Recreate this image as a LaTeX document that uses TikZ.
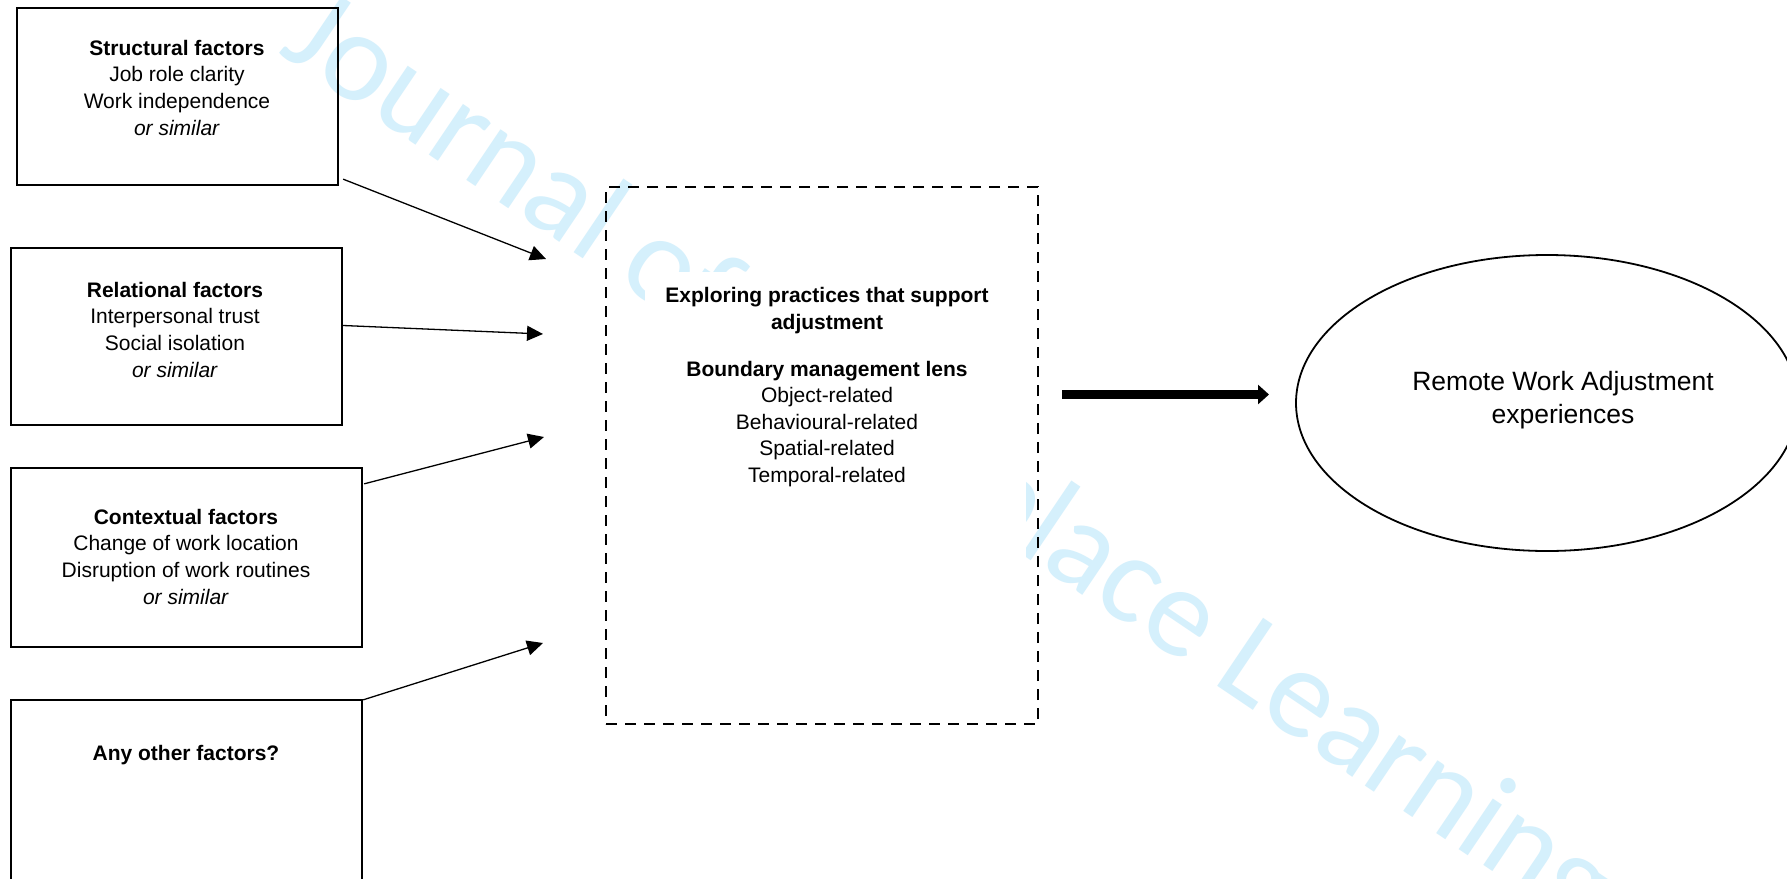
\documentclass[tikz,border=0pt]{standalone}
\usepackage{fontspec}
\setmainfont{Liberation Sans}
\newfontfamily\wmfont{Carlito}
\usetikzlibrary{arrows.meta,shapes.geometric,fit}
\definecolor{wmblue}{RGB}{213,240,252}
\begin{document}
\begin{tikzpicture}[x=0.5pt,y=-0.5pt,
  factorbox/.style={draw, line width=1.15pt, rectangle, inner sep=0pt},
  ftext/.style={align=center, inner sep=0pt, anchor=base, font=\fontsize{10.5pt}{13.3pt}\selectfont},
  thinarrow/.style={line width=0.65pt, -{Triangle[length=8pt,width=7.5pt]}},
  thickarrow/.style={line width=4.35pt, -{Triangle[length=5.5pt,width=9.5pt]}},
  dashbox/.style={draw, line width=1.2pt, dash pattern=on 5.5pt off 4pt, rectangle, inner sep=0pt},
  wm/.style={text=wmblue, inner sep=0pt, font=\wmfont\fontsize{64pt}{68pt}\selectfont}
]
\useasboundingbox (0,0) rectangle (1787,878);
\clip (0,0) rectangle (1787,878);
\fill[white] (0,0) rectangle (1787,878);

% watermark
\node[wm, rotate=-34, anchor=base west] (wmark) at (277,52) {Journal of Workplace Learning};
\fill[white] (645,272) rectangle (1026,715);

% factor boxes
\node[factorbox, fit={(17,8) (338,185)}] (s1) {};
\node[factorbox, fit={(11,248) (342,425)}] (s2) {};
\node[factorbox, fit={(11,468) (362,647)}] (s3) {};
\node[factorbox, fit={(11,700) (362,900)}] (s4) {};

% (anchor base = baseline of the last line)
\node[ftext] (s1t) at (177,135) {\textbf{Structural factors}\\Job role clarity\\Work independence\\\textit{or similar}};
\node[ftext] (s2t) at (175,377) {\textbf{Relational factors}\\Interpersonal trust\\Social isolation\\\textit{or similar}};
\node[ftext] (s3t) at (186,604) {\textbf{Contextual factors}\\Change of work location\\Disruption of work routines\\\textit{or similar}};
\node[ftext] (s4t) at (186,760) {\textbf{Any other factors?}};

% middle dashed box
\node[dashbox, fit={(606,187) (1038,724)}] (mid) {};
\node[ftext] (midt) at (827,482.5) {\textbf{Exploring practices that support}\\\textbf{adjustment}\\[10.2pt]\textbf{Boundary management lens}\\Object-related\\Behavioural-related\\Spatial-related\\Temporal-related};

% outcome ellipse
\node[ellipse, draw, line width=0.9pt, minimum width=251pt, minimum height=148pt, inner sep=0pt] (out) at (1547,403) {};
\node[align=center, inner sep=0pt, anchor=base, font=\fontsize{13.25pt}{16.5pt}\selectfont] (outt) at (1563,423) {Remote Work Adjustment\\experiences};

% arrow ends
\coordinate (e1) at (546,259);
\coordinate (e2) at (543,334);
\coordinate (e3) at (544,437);
\coordinate (e4) at (543,643);
\coordinate (t1) at (1062,394.5);
\coordinate (t2) at (1269,394.5);

\draw[thinarrow] ([shift={(4,-7)}]s1.south east) -- (e1);
\draw[thinarrow] ([shift={(0,-11)}]s2.east) -- (e2);
\draw[thinarrow] ([shift={(1,17)}]s3.north east) -- (e3);
\draw[thinarrow] ([shift={(0,1)}]s4.north east) -- (e4);
\draw[thickarrow] (t1) -- (t2);
\end{tikzpicture}
\end{document}
